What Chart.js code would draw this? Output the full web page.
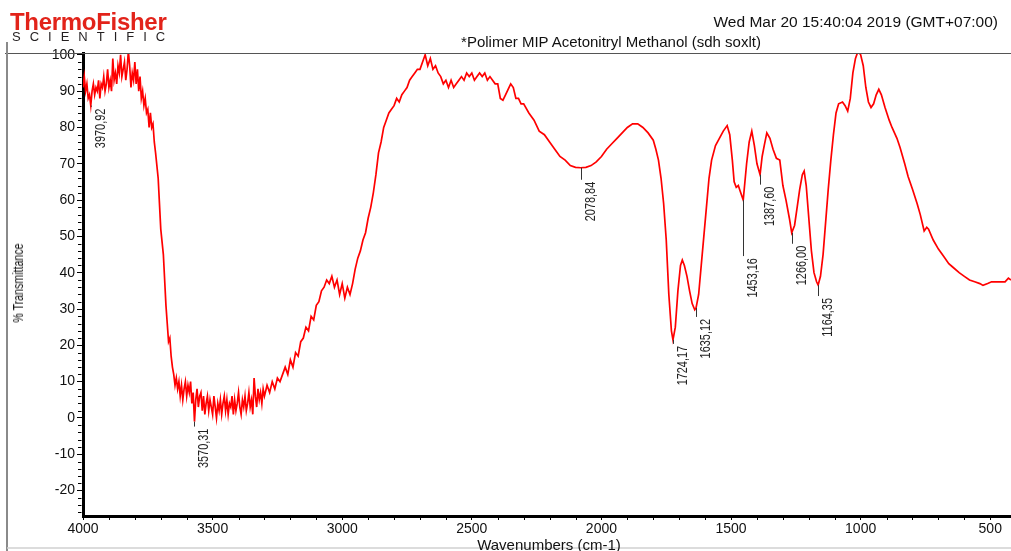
<!DOCTYPE html>
<html><head><meta charset="utf-8">
<script src="https://cdn.jsdelivr.net/npm/chart.js@4"></script>
<style>
html,body{margin:0;padding:0;background:#fff;overflow:hidden}
#wrap{position:relative;width:1011px;height:551px;background:#fff}
canvas{position:absolute;left:0;top:0}
.t{position:absolute;font-family:"Liberation Sans",Arial,sans-serif;white-space:nowrap;line-height:1}
</style></head><body>
<div id="wrap">
<canvas id="c" width="1011" height="551"></canvas>
<div class="t" style="left:10px;top:10px;font-size:24px;font-weight:bold;color:#e2231a;letter-spacing:-0.3px;">ThermoFisher</div>
<div class="t" style="left:12px;top:30px;font-size:13px;color:#231f20;letter-spacing:9px;">SCIENTIFIC</div>
<div class="t" style="right:13px;top:14px;font-size:15.5px;color:#111;">Wed Mar 20 15:40:04 2019 (GMT+07:00)</div>
<div class="t" style="left:611px;top:34px;font-size:15px;color:#111;transform:translateX(-50%);">*Polimer MIP Acetonitryl Methanol (sdh soxlt)</div>
<div class="t" style="left:18px;top:283px;font-size:14px;color:#111;transform:translate(-50%,-50%) rotate(-90deg) scaleX(0.76);">% Transmittance</div>
<div class="t" style="left:549px;top:537px;font-size:15px;color:#111;transform:translateX(-50%);">Wavenumbers (cm-1)</div>
</div>
<script>
const wavenumbers = [
4000,3995,3990,3985,3980,3975,3970,3965,3960,3955,3950,3945,3940,3935,3930,3925,3920,3915,3910,3905,
3900,3895,3890,3885,3880,3875,3870,3865,3860,3855,3850,3845,3840,3835,3830,3825,3820,3815,3810,3805,
3800,3795,3790,3785,3780,3775,3770,3765,3760,3755,3750,3745,3740,3735,3730,3725,3720,3710,3700,
3690,3685,3680,3675,3670,3665,3660,3655,3650,3645,3640,3635,3630,3625,3620,3615,3610,3605,
3600,3595,3590,3585,3580,3575,3570,3565,3560,3555,3550,3545,3540,3535,3530,3525,3520,3515,3510,3505,
3500,3495,3490,3485,3480,3475,3470,3465,3460,3455,3450,3445,3440,3435,3430,3425,3420,3415,3410,3405,
3400,3395,3390,3385,3380,3375,3370,3365,3360,3355,3350,3345,3340,3335,3330,3325,3320,3315,3310,3305,
3300,3290,3280,3270,3260,3250,3240,3230,3220,3210,
3200,3190,3180,3170,3160,3150,3140,3130,3120,3110,3100,3090,3080,3070,3060,3050,3040,3030,3020,3010,
3000,2990,2980,2970,2960,2950,2940,2930,2920,2910,2900,2890,2880,2870,2860,2850,2840,2830,2820,2810,
2800,2790,2780,2770,2760,2750,2740,2730,2720,2710,2700,2690,2680,2670,2660,2650,2640,2630,2620,2610,
2600,2590,2580,2570,2560,2550,2540,2530,2520,2510,2500,2490,2480,2470,2460,2450,2440,2430,2420,2410,
2400,2390,2380,2370,2360,2350,2340,2330,2320,2310,2300,
2280,2260,2240,2220,2200,2180,2160,2140,2120,2100,2080,2060,2040,2020,2000,1980,1960,1940,1920,1900,
1880,1860,1840,1820,1800,1790,1780,1770,1760,1750,1740,1730,1724,1715,1705,1695,1688,1680,1670,1660,
1650,1640,1635,1625,1615,1605,1595,1585,1575,1560,1545,1530,1515,1505,1495,1488,1480,1472,1465,1453,
1440,1430,1420,1410,1400,1388,1380,1372,1362,1350,1338,1325,1312,1300,1288,1275,1266,1255,1245,1235,
1225,1218,1210,1200,1190,1180,1170,1164,1155,1145,1135,1125,1115,1105,1095,1085,1070,1060,1050,1040,
1030,1020,1010,1000,990,980,970,960,950,940,930,920,906,890,879,860,848,830,817,800,
782,770,755,745,738,720,700,680,660,644,620,600,580,560,540,528,510,495,480,460,
443,430,420
];
const transmittance = [
91,94,90,92,88,89,86,90,92,89,91,90,93,88,92,91,94,90,92,96,
91,93,90,99,93,95,92,97,95,100,94,96,98,93,96,101,97,91,95,93,
98,92,96,90,94,88,90,86,88,84,85,80,84,80,81,76,73,66,52,
45,38,31,26,21,22,17,14,12,9,11,8,10,6,9,5,8,10,
6,9,7,10,4,7,-1,5,8,3,6,7,2,6,1,4,6,2,5,3,
1,6,3,0,4,2,5,1,4,6,2,5,1,4,3,6,1,5,2,4,
7,3,1,5,3,6,2,4,7,3,5,1,11,6,3,8,5,7,4,8,
6,9,7,10,8,11,10,12,14,12,
16,14,18,17,21,22,25,24,28,27,31,32,35,36,38,37,39,36,38,34,
37,33,36,34,37,41,44,46,49,51,55,58,62,67,73,76,80,82,84,85,
86,88,87,89,90,91,93,94,95,96,96,98,100,97,99,96,97,95,94,92,
93,91,93,91,92,93,94,93,95,94,95,93,94,95,94,95,93,94,93,92,
92,88,87.5,89,90.5,92,91,88,88,86.5,86.5,
84,82,79,78,76,74,72,71,69.5,69,68.9,69,69.5,70.5,72,74,75.5,77,78.5,80,
81,81,80,78.5,76.5,74,71,66,59,49,34,24,21.5,25,35,42,43.5,42,39,35,
31.5,29.8,30.3,34,42,50,58,66,71,75,77,79,80.5,78,71,65,63.5,64,62.5,60,
70,76,79,75,70,67,72,75,78.5,77,74,71.5,71,64,60,55,51,53,58,63,
67,68,64,55,46,40,37.5,36.6,39,45,54,63,71,78,84,86.5,87,86,84.5,88,
95,99,101,100,97,91,87,85.5,86.5,89,90.5,89,85.5,82,80,77,74.5,70,66.5,63,
59,56,51.5,52.5,52,49,46.5,44.5,42.5,41.5,40,39,38,37.5,37,36.5,37,37.5,37.5,37.5,
37.5,38.5,38
];
const xTickValues = [4000,3500,3000,2500,2000,1500,1000,500];
const yTickValues = [-20,-10,0,10,20,30,40,50,60,70,80,90,100];
const peakWavenumbers = [3970.92,3570.31,2078.84,1724.17,1635.12,1453.16,1387.60,1266.00,1164.35];
const peakLabels = ["3970,92","3570,31","2078,84","1724,17","1635,12","1453,16","1387,60","1266,00","1164,35"];
const peakTransmittance = [86,-1,68.9,21.5,30.3,60,67,51,36.6];

const FONT = '"Liberation Sans", Arial, sans-serif';
const leaderLengths = [1,5,12,4,9,56,10,11,11];

const decor = {
  id:'decor',
  beforeDraw(chart){
    const c = chart.ctx;
    c.save(); c.fillStyle='#fff'; c.fillRect(0,0,chart.width,chart.height); c.restore();
  },
  afterDraw(chart){
    const c = chart.ctx, xs = chart.scales.x, ys = chart.scales.y, a = chart.chartArea;
    c.save();
    c.strokeStyle='#555'; c.lineWidth=1;
    c.beginPath(); c.moveTo(5,a.top+0.5); c.lineTo(chart.width,a.top+0.5); c.stroke();
    c.strokeStyle='#8a8a8a'; c.lineWidth=2;
    c.beginPath(); c.moveTo(7,42); c.lineTo(7,chart.height); c.stroke();
    c.strokeStyle='#d0d0d0'; c.lineWidth=1.5;
    c.beginPath(); c.moveTo(7,548); c.lineTo(chart.width,548); c.stroke();
    c.strokeStyle='#000'; c.lineWidth=1;
    c.beginPath();
    for(let v=-26; v<=100; v+=2){
      if(v%10===0) continue;
      const y = Math.round(ys.getPixelForValue(v))+0.5;
      c.moveTo(a.left-5,y); c.lineTo(a.left-1.5,y);
    }
    for(let v=500; v<=4000; v+=100){
      if(v%500===0) continue;
      const x = Math.round(xs.getPixelForValue(v))+0.5;
      c.moveTo(x,a.bottom+1.5); c.lineTo(x,a.bottom+4);
    }
    c.stroke();
    c.strokeStyle='#333'; c.fillStyle='#222'; c.lineWidth=1;
    c.font = '14px '+FONT;
    peakWavenumbers.forEach((w,i)=>{
      const x = Math.round(xs.getPixelForValue(w))+0.5;
      const y0 = ys.getPixelForValue(peakTransmittance[i]);
      const y1 = y0 + leaderLengths[i];
      c.beginPath(); c.moveTo(x,y0); c.lineTo(x,y1); c.stroke();
      c.save();
      c.translate(x+13, y1+2);
      c.rotate(-Math.PI/2);
      c.scale(0.78,1);
      c.textAlign='right'; c.textBaseline='alphabetic';
      c.fillText(peakLabels[i],0,0);
      c.restore();
    });
    c.restore();
  }
};

new Chart(document.getElementById('c'), {
  type:'line',
  data:{datasets:[{
    data: wavenumbers.map((w,i)=>({x:w,y:transmittance[i]})),
    borderColor:'#ff0000', borderWidth:1.7, pointRadius:0, tension:0, fill:false
  }]},
  options:{
    responsive:false, animation:false, events:[],
    layout:{padding:{top:53,left:0,right:0,bottom:0}},
    plugins:{legend:{display:false},tooltip:{enabled:false},title:{display:false}},
    scales:{
      x:{type:'linear', reverse:true, min:420, max:4000,
        afterBuildTicks:s=>{s.ticks = xTickValues.map(v=>({value:v}));},
        afterFit:s=>{s.height=35;},
        grid:{display:true,drawOnChartArea:false,drawTicks:true,tickLength:4,color:'#000',lineWidth:1},
        border:{display:true,color:'#000',width:3},
        ticks:{font:{family:FONT,size:14},color:'#111',padding:1,maxRotation:0,autoSkip:false,callback:v=>String(v)}
      },
      y:{type:'linear', min:-27, max:100.5,
        afterBuildTicks:s=>{s.ticks = yTickValues.map(v=>({value:v}));},
        afterFit:s=>{s.width=83;},
        grid:{display:true,drawOnChartArea:false,drawTicks:true,tickLength:6,color:'#000',lineWidth:1},
        border:{display:true,color:'#000',width:3},
        ticks:{font:{family:FONT,size:14},color:'#111',padding:2,autoSkip:false,callback:v=>String(v)}
      }
    }
  },
  plugins:[decor]
});
</script>
</body></html>
